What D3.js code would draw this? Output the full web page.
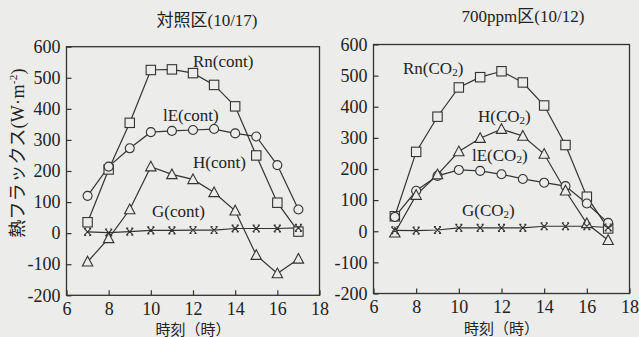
<!DOCTYPE html>
<html>
<head>
<meta charset="utf-8">
<script src="https://cdn.jsdelivr.net/npm/d3@7"></script>
<style>
  html, body { margin: 0; padding: 0; background: #ececea; }
  svg { display: block; }
  text { fill: #222; }
</style>
</head>
<body>
<svg id="chart" width="639" height="337"></svg>
<script>
// Hours of observation
const hours = [7, 8, 9, 10, 11, 12, 13, 14, 15, 16, 17];

// Control plot (10/17), W·m-2
const rnCont = [35, 205, 355, 525, 527, 515, 477, 408, 250, 98, 5];
const leCont = [120, 214, 273, 325, 329, 332, 335, 321, 311, 219, 76];
const hCont  = [-92, -17, 76, 214, 189, 173, 131, 72, -71, -130, -83];
const gCont  = [4, 2, 5, 9, 9, 10, 10, 15, 15, 15, 17];

// 700 ppm CO2 plot (10/12), W·m-2
const rnCo2 = [48, 255, 368, 462, 495, 514, 478, 404, 277, 111, 9];
const leCo2 = [46, 130, 178, 197, 194, 183, 168, 156, 145, 89, 27];
const hCo2  = [-5, 116, 182, 256, 299, 328, 306, 248, 130, 25, -29];
const gCo2  = [3, 2, 4, 11, 11, 11, 11, 16, 16, 16, 12];

const xTicks = [6, 8, 10, 12, 14, 16, 18];
const yTicks = [-200, -100, 0, 100, 200, 300, 400, 500, 600];

const svg = d3.select("#chart");
const ink = "#333";
const bg = "#ececea";
const serif = "'Liberation Serif', 'Times New Roman', serif";
const jp = "'Liberation Serif', 'Noto Sans CJK JP', serif";
const plain = d => String(d);   // hyphen-minus, as printed on the axes

function panel(opt) {
  const x = d3.scaleLinear().domain([6, 18]).range([opt.left, opt.right]);
  const y = d3.scaleLinear().domain([-200, 600]).range([opt.bottom, opt.top]);
  const g = svg.append("g");

  // frame
  g.append("rect")
    .attr("x", opt.left).attr("y", opt.top)
    .attr("width", opt.right - opt.left).attr("height", opt.bottom - opt.top)
    .attr("fill", "none").attr("stroke", ink).attr("stroke-width", 1.3);

  // axes with inward ticks
  const ax = g.append("g").attr("transform", `translate(0,${opt.bottom})`)
    .call(d3.axisBottom(x).tickValues(xTicks).tickSize(-5).tickPadding(7).tickFormat(plain));
  const ay = g.append("g").attr("transform", `translate(${opt.left},0)`)
    .call(d3.axisLeft(y).tickValues(yTicks).tickSize(-5).tickPadding(6).tickFormat(plain));
  [ax, ay].forEach(a => {
    a.attr("font-family", null).attr("font-size", null);
    a.select(".domain").remove();
    a.selectAll("line").attr("stroke", ink).attr("stroke-width", 1.2);
    a.selectAll("text").style("font-family", serif).style("font-size", "18px").attr("fill", "#222");
  });
  ax.selectAll("text").attr("dy", "0.7em");

  const line = d3.line().x((d, i) => x(hours[i])).y(d => y(d));

  const series = [
    { v: opt.rn, m: "square" },
    { v: opt.le, m: "circle" },
    { v: opt.h,  m: "triangle" },
    { v: opt.g,  m: "cross" }
  ];

  series.forEach(s => {
    g.append("path").datum(s.v).attr("d", line)
      .attr("fill", "none").attr("stroke", ink).attr("stroke-width", 1.2);
  });

  series.forEach(s => {
    const pts = g.append("g").selectAll("g").data(s.v).join("g")
      .attr("transform", (d, i) => `translate(${x(hours[i])},${y(d)})`);
    if (s.m === "square") {
      pts.append("rect").attr("x", -4.7).attr("y", -4.7).attr("width", 9.4).attr("height", 9.4)
        .attr("fill", bg).attr("stroke", ink).attr("stroke-width", 1.1);
    } else if (s.m === "circle") {
      pts.append("circle").attr("r", 4.5)
        .attr("fill", bg).attr("stroke", ink).attr("stroke-width", 1.1);
    } else if (s.m === "triangle") {
      pts.append("path").attr("d", "M0,-5.5L5.2,4.2L-5.2,4.2Z")
        .attr("fill", bg).attr("stroke", ink).attr("stroke-width", 1.1);
    } else {
      pts.append("path").attr("d", "M-3.5,-3.5L3.5,3.5M-3.5,3.5L3.5,-3.5M-3.5,-3.5L-1.5,-3.5M1.5,-3.5L3.5,-3.5M-3.5,3.5L-1.5,3.5M1.5,3.5L3.5,3.5")
        .attr("fill", "none").attr("stroke", ink).attr("stroke-width", 1.1);
    }
  });

  // series labels
  opt.labels.forEach(l => {
    const t = g.append("text").attr("x", l.x).attr("y", l.y)
      .style("font-family", serif).style("font-size", "17px");
    t.append("tspan").text(l.a);
    if (l.sub) {
      t.append("tspan").style("font-size", "11px").attr("dy", 2).text(l.sub);
      t.append("tspan").attr("dy", -2).text(")");
    }
  });

  // title
  svg.append("text").attr("x", opt.titleX).attr("y", opt.titleY)
    .attr("text-anchor", "middle").style("font-family", jp).style("font-size", "17px")
    .text(opt.title);

  // x axis title
  svg.append("text").attr("x", (opt.left + opt.right) / 2).attr("y", opt.xTitleY)
    .attr("text-anchor", "middle").style("font-family", jp).style("font-size", "15px")
    .text("時刻（時）");
}

panel({
  left: 66.5, right: 319.5, top: 46.7, bottom: 295.3,
  rn: rnCont, le: leCont, h: hCont, g: gCont,
  title: "対照区(10/17)", titleX: 207, titleY: 26, xTitleY: 335,
  labels: [
    { x: 193, y: 67, a: "Rn(cont)" },
    { x: 163, y: 121, a: "lE(cont)" },
    { x: 193, y: 168, a: "H(cont)" },
    { x: 152, y: 217, a: "G(cont)" }
  ]
});

panel({
  left: 373.5, right: 629.5, top: 44.5, bottom: 293.5,
  rn: rnCo2, le: leCo2, h: hCo2, g: gCo2,
  title: "700ppm区(10/12)", titleX: 523, titleY: 22, xTitleY: 334,
  labels: [
    { x: 403, y: 74, a: "Rn(CO", sub: "2" },
    { x: 478, y: 122, a: "H(CO", sub: "2" },
    { x: 472, y: 161, a: "lE(CO", sub: "2" },
    { x: 462, y: 216, a: "G(CO", sub: "2" }
  ]
});

// shared y axis title
const yt = svg.append("text")
  .attr("transform", "translate(24,153) rotate(-90)")
  .attr("text-anchor", "middle").style("font-family", jp).style("font-size", "18px")
  .attr("letter-spacing", 0.3);
yt.append("tspan").text("熱フラックス(W·m");
yt.append("tspan").style("font-size", "11px").attr("dy", -7).text("-2");
yt.append("tspan").attr("dy", 7).text(")");
</script>
</body>
</html>
